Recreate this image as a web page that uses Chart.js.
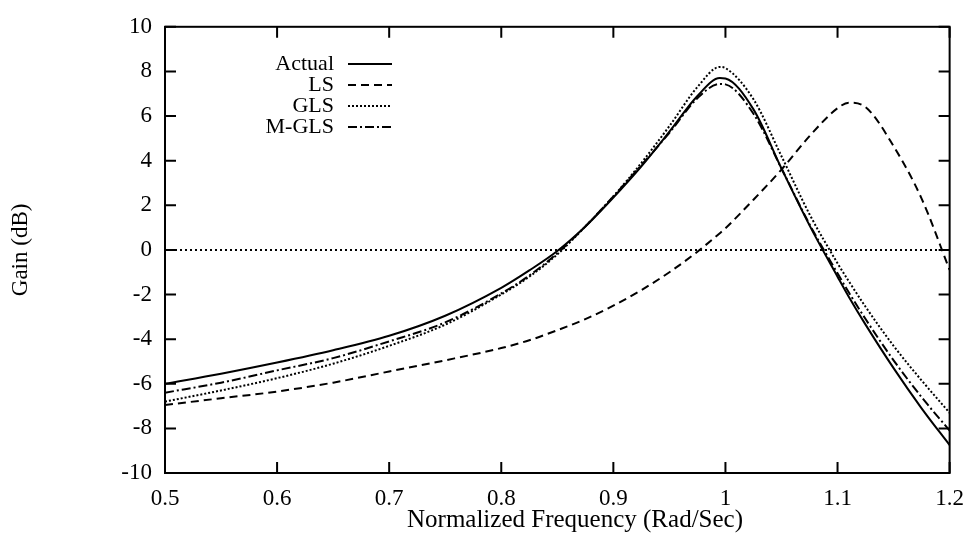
<!DOCTYPE html>
<html>
<head>
<meta charset="utf-8">
<script src="https://cdn.jsdelivr.net/npm/chart.js@4"></script>
<style>
  html, body { margin: 0; background: #fff; }
</style>
</head>
<body>
<canvas id="gainChart" width="976" height="541"></canvas>
<script>
// ── Data ────────────────────────────────────────────────
const freq   = [0.5, 0.55, 0.6, 0.65, 0.7, 0.75, 0.8, 0.825, 0.85, 0.875, 0.9, 0.925, 0.95, 0.975, 0.995, 1.0, 1.025, 1.05, 1.075, 1.1, 1.11, 1.125, 1.15, 1.175, 1.2];
const actual = [-6.0, -5.55, -5.05, -4.5, -3.85, -2.95, -1.7, -0.92, -0.05, 1.05, 2.35, 3.75, 5.3, 6.9, 7.7, 7.68, 6.3, 3.65, 1.1, -1.2, -2.1, -3.35, -5.3, -7.1, -8.75];
const ls     = [-6.95, -6.65, -6.35, -5.95, -5.45, -4.95, -4.4, -4.05, -3.6, -3.1, -2.5, -1.8, -1.0, -0.08, 0.75, 0.97, 2.25, 3.6, 5.1, 6.35, 6.6, 6.4, 4.65, 2.3, -0.9];
const gls    = [-6.8, -6.3, -5.75, -5.1, -4.3, -3.35, -2.0, -1.2, -0.2, 1.05, 2.4, 3.9, 5.55, 7.3, 8.2, 8.15, 6.75, 4.2, 1.6, -0.6, -1.4, -2.55, -4.3, -5.85, -7.3];
const mgls   = [-6.4, -5.95, -5.4, -4.85, -4.1, -3.25, -1.95, -1.15, -0.15, 1.05, 2.4, 3.8, 5.25, 6.8, 7.44, 7.42, 6.1, 3.65, 1.15, -1.05, -1.9, -3.1, -4.95, -6.6, -8.1];

const xTicks = [0.5, 0.6, 0.7, 0.8, 0.9, 1.0, 1.1, 1.2];
const yTicks = [-10, -8, -6, -4, -2, 0, 2, 4, 6, 8, 10];

const FONT = "'Liberation Serif', 'Times New Roman', serif";
const pts = ys => freq.map((f, i) => ({ x: f, y: ys[i] }));

const series = [
    { label: 'Actual', data: actual, dash: [] },
    { label: 'LS',     data: ls,     dash: [8, 5] },
    { label: 'GLS',    data: gls,    dash: [2, 2] },
    { label: 'M-GLS',  data: mgls,   dash: [9, 3, 2, 3] },
];

// ── Frame with inward ticks, legend, axis titles ────────
const framePlugin = {
    id: 'frame',
    afterDatasetsDraw(chart) {
        const { ctx, chartArea: a, scales: { x, y } } = chart;
        ctx.save();
        ctx.strokeStyle = '#000';
        ctx.lineWidth = 2;
        ctx.strokeRect(a.left, a.top, a.right - a.left, a.bottom - a.top);
        ctx.beginPath();
        xTicks.forEach(v => {
            const px = x.getPixelForValue(v);
            ctx.moveTo(px, a.bottom); ctx.lineTo(px, a.bottom - 11);
            ctx.moveTo(px, a.top);    ctx.lineTo(px, a.top + 11);
        });
        yTicks.forEach(v => {
            const py = y.getPixelForValue(v);
            ctx.moveTo(a.left, py);  ctx.lineTo(a.left + 11, py);
            ctx.moveTo(a.right, py); ctx.lineTo(a.right - 11, py);
        });
        ctx.stroke();

        // legend
        ctx.font = '22px ' + FONT;
        ctx.fillStyle = '#000';
        ctx.textAlign = 'right';
        ctx.textBaseline = 'middle';
        series.forEach((s, i) => {
            const ly = 64 + i * 21;
            ctx.fillText(s.label, 334, ly);
            ctx.beginPath();
            ctx.setLineDash(s.dash);
            ctx.lineWidth = 2;
            ctx.moveTo(348, ly); ctx.lineTo(392, ly);
            ctx.stroke();
        });
        ctx.setLineDash([]);

        // axis titles
        ctx.textAlign = 'center';
        ctx.font = '25px ' + FONT;
        ctx.fillText('Normalized Frequency (Rad/Sec)', 575, 520);
        ctx.font = '23px ' + FONT;
        ctx.translate(21, (a.top + a.bottom) / 2);
        ctx.rotate(-Math.PI / 2);
        ctx.fillText('Gain (dB)', 0, 0);
        ctx.restore();
    },
};

new Chart(document.getElementById('gainChart').getContext('2d'), {
    type: 'line',
    data: {
        datasets: [
            ...series.map(s => ({
                label:           s.label,
                data:            pts(s.data),
                borderColor:     '#000',
                borderWidth:     2,
                borderDash:      s.dash,
                pointRadius:     0,
                fill:            false,
                cubicInterpolationMode: 'monotone',
            })),
            {
                label:       'zero',
                data:        [{ x: 0.5, y: 0 }, { x: 1.2, y: 0 }],
                borderColor: '#000',
                borderWidth: 2,
                borderDash:  [2, 3],
                pointRadius: 0,
            },
        ],
    },
    options: {
        responsive: false,
        animation:  false,
        layout: { autoPadding: false, padding: { top: 17, right: 22, left: 0, bottom: 0 } },
        plugins: { legend: { display: false }, tooltip: { enabled: false } },
        scales: {
            x: {
                type: 'linear', min: 0.5, max: 1.2,
                afterBuildTicks: s => { s.ticks = xTicks.map(v => ({ value: v })); },
                afterFit: s => { s.height = 68; },
                grid: { display: false, drawTicks: false },
                border: { display: false },
                ticks: {
                    color: '#000', padding: 12,
                    font: { family: FONT, size: 23 },
                    callback: v => String(Number(v.toFixed(1))),
                },
            },
            y: {
                min: -10, max: 10,
                afterBuildTicks: s => { s.ticks = yTicks.map(v => ({ value: v })); },
                afterFit: s => { s.width = 165; },
                grid: { display: false, drawTicks: false },
                border: { display: false },
                ticks: {
                    color: '#000', padding: 13,
                    font: { family: FONT, size: 23 },
                    callback: v => String(v),
                },
            },
        },
    },
    plugins: [framePlugin],
});
</script>
</body>
</html>
